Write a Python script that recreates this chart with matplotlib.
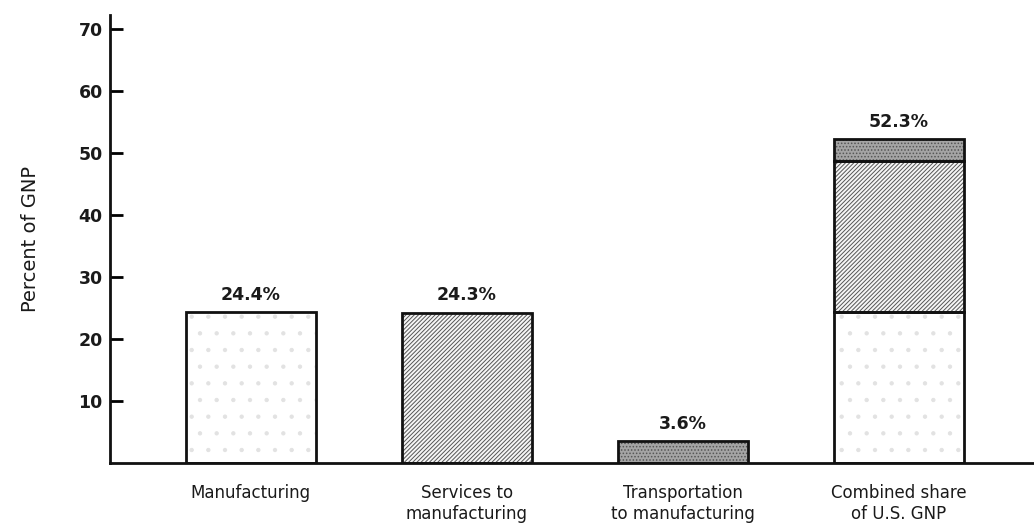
import matplotlib
matplotlib.use("Agg")
import matplotlib.pyplot as plt
import numpy as np

plt.rcParams['font.family'] = ['DejaVu Sans']
plt.rcParams['hatch.linewidth'] = 0.7

categories = ["Manufacturing", "Services to\nmanufacturing",
              "Transportation\nto manufacturing", "Combined share\nof U.S. GNP"]
manufacturing = 24.4
services = 24.3
transportation = 3.6
combined_parts = [manufacturing, services, transportation]
value_labels = ["24.4%", "24.3%", "3.6%", "52.3%"]
yticks = [10, 20, 30, 40, 50, 60, 70]

fig = plt.figure(figsize=(10.34, 5.25), dpi=100)
ax = fig.add_axes([0.106, 0.118, 0.894, 0.853])

x = np.arange(len(categories))
w = 0.6

light = dict(color='#ffffff', edgecolor='#e2e2e2', hatch='.', linewidth=0)
hatched = dict(color='#f6f6f6', edgecolor='#555555', hatch='/' * 8, linewidth=0)
dark = dict(color='#a4a4a4', edgecolor='#555555', hatch='.....', linewidth=0)
styles = [light, hatched, dark]

singles = [manufacturing, services, transportation]
for i, (v, st) in enumerate(zip(singles, styles)):
    ax.bar(x[i], v, w, **st, zorder=2)
    ax.bar(x[i], v, w, fill=False, edgecolor='#111111', linewidth=2, zorder=3)

bottom = 0
for v, st in zip(combined_parts, styles):
    ax.bar(x[3], v, w, bottom=bottom, **st, zorder=2)
    ax.bar(x[3], v, w, bottom=bottom, fill=False, edgecolor='#111111', linewidth=2, zorder=3)
    bottom += v

tops = singles + [sum(combined_parts)]
for i, (t, lab) in enumerate(zip(tops, value_labels)):
    ax.text(x[i], t + 1.3, lab, ha='center', va='bottom', fontsize=12.5,
            fontweight='bold', color='#1a1a1a')

ax.set_xlim(-0.653, 3.625)
ax.set_ylim(0, 72.3)
ax.set_yticks(yticks)
ax.set_yticklabels([str(t) for t in yticks], fontsize=12.5, fontweight='bold', color='#1a1a1a')
ax.tick_params(axis='y', direction='in', length=9, width=2, pad=5)
ax.set_xticks(x)
ax.set_xticklabels(categories, fontsize=12, color='#1a1a1a', linespacing=1.2)
ax.tick_params(axis='x', length=0, pad=15)
ax.set_ylabel("Percent of GNP", fontsize=14, color='#1a1a1a', labelpad=28)

for s in ['top', 'right']:
    ax.spines[s].set_visible(False)
ax.spines['left'].set_linewidth(2)
ax.spines['bottom'].set_linewidth(2)
ax.spines['left'].set_color('#111111')
ax.spines['bottom'].set_color('#111111')

fig.savefig("out.png", dpi=100)
